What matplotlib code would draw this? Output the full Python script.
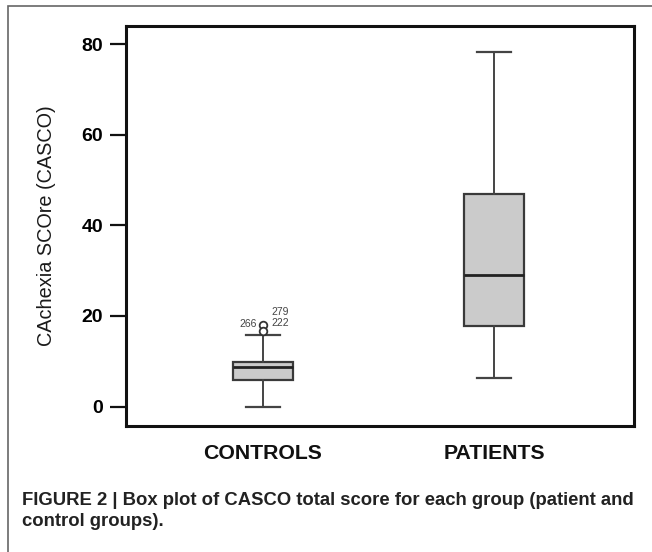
import matplotlib
matplotlib.use("Agg")
import matplotlib.pyplot as plt
from matplotlib.patches import Rectangle

plt.rcParams['font.family'] = ['Liberation Sans', 'DejaVu Sans']

# box plot summary
groups = ["CONTROLS", "PATIENTS"]
whis_low = [0.0, 6.3]
q1 = [5.9, 17.7]
median = [8.7, 29.1]
q3 = [9.8, 46.9]
whis_high = [15.8, 78.2]
fliers = [[18.1, 16.6], []]
flier_ids = ["266", "279", "222"]

caption = ("FIGURE 2 | Box plot of CASCO total score for each group (patient and\n"
           "control groups).")

stats = []
for i, g in enumerate(groups):
    stats.append(dict(label=g, whislo=whis_low[i], q1=q1[i], med=median[i],
                      q3=q3[i], whishi=whis_high[i], fliers=fliers[i]))

fig = plt.figure(figsize=(6.52, 5.52), dpi=100)
ax = fig.add_axes([0.1933, 0.2283, 0.7791, 0.7246])

pos = [1, 2]
ax.bxp(stats, positions=pos, widths=0.26, patch_artist=True, showfliers=True,
       boxprops=dict(facecolor="#cbcbcb", edgecolor="#3a3a3a", linewidth=1.6),
       medianprops=dict(color="#222222", linewidth=2.0),
       whiskerprops=dict(color="#444444", linewidth=1.4),
       capprops=dict(color="#444444", linewidth=1.6),
       capwidths=0.147,
       flierprops=dict(marker="o", markersize=5.5, markerfacecolor="white",
                       markeredgecolor="#333333", markeredgewidth=1.3))

# outlier case numbers
ax.text(0.975, fliers[0][0] + 0.2, flier_ids[0], fontsize=7.5, color="#444444",
        ha="right", va="center")
ax.text(1.035, fliers[0][0] + 2.8, flier_ids[1], fontsize=7.5, color="#444444",
        ha="left", va="center")
ax.text(1.035, fliers[0][0] + 0.4, flier_ids[2], fontsize=7.5, color="#444444",
        ha="left", va="center")

ax.set_xlim(0.407, 2.606)
ax.set_ylim(-4.3, 84)
ax.set_yticks([0, 20, 40, 60, 80])
ax.set_xticks(pos)
ax.set_xticklabels(groups, fontsize=15.3, fontweight="bold", color="#111111")
ax.tick_params(axis="y", direction="out", length=11.5, width=1.6, pad=5,
               labelsize=14, color="#111111")
for lab in ax.get_yticklabels():
    lab.set_fontweight("bold")
ax.tick_params(axis="x", length=0, pad=13)
for s in ax.spines.values():
    s.set_linewidth(2.2)
    s.set_color("#111111")

ax.set_ylabel("CAchexia SCOre (CASCO)", fontsize=14.3, color="#1a1a1a", labelpad=18)

# outer frame of the figure panel
fig.patches.append(Rectangle((8 / 652, -0.1), 1.2, (1 - 6 / 552) + 0.1,
                             transform=fig.transFigure, fill=False,
                             edgecolor="#666666", linewidth=1.2))

fig.text(22 / 652, 1 - 511 / 552, caption, fontsize=13.3, fontweight="bold",
         color="#222222", ha="left", va="center", linespacing=1.35)

fig.savefig("out.png", dpi=100)
